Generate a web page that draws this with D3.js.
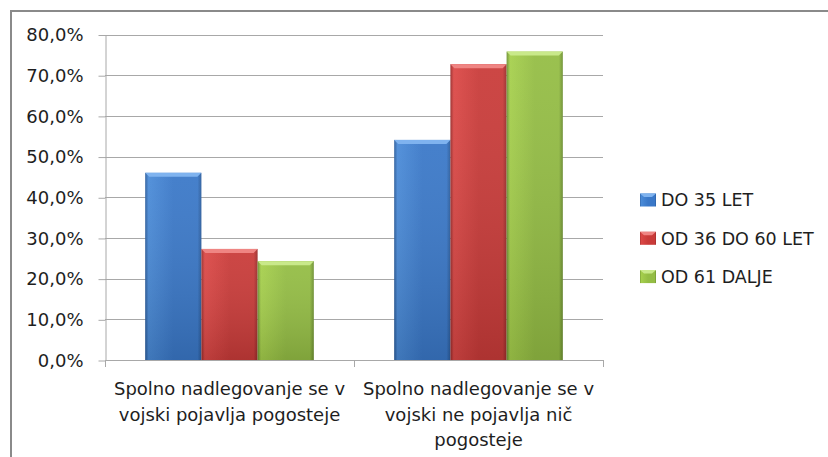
<!DOCTYPE html>
<html>
<head>
<meta charset="utf-8">
<script src="https://cdn.jsdelivr.net/npm/d3@7"></script>
<style>
  body { margin: 0; background: #fff; }
  text { font-family: "DejaVu Sans", sans-serif; fill: #1e1e1e; }
</style>
</head>
<body>
<div id="chart_area"></div>
<script>
// chart data
var categories = [
  ["Spolno nadlegovanje se v", "vojski pojavlja pogosteje"],
  ["Spolno nadlegovanje se v", "vojski ne pojavlja nič", "pogosteje"]
];
var series = ["DO 35 LET", "OD 36 DO 60 LET", "OD 61 DALJE"];
var values = [
  [0.460, 0.273, 0.243],  // DO 35 LET, OD 36 DO 60 LET, OD 61 DALJE (first group)
  [0.541, 0.727, 0.758]   // second group
];
var yTicks = [0, 0.1, 0.2, 0.3, 0.4, 0.5, 0.6, 0.7, 0.8];

var colors = [
  { light: "#4a8bd8", base: "#3a78c8", dark: "#2a5c9c", top: "#7fb3ef" },
  { light: "#dc4846", base: "#c93b39", dark: "#9a2b2a", top: "#ef8583" },
  { light: "#a6d04c", base: "#94bd44", dark: "#6c8f30", top: "#c9e98a" }
];

var canvas_width = 828, canvas_height = 457;
var margin = { top: 34.5, right: 225, bottom: 97, left: 105 };

var svg = d3.select("#chart_area")
  .append("svg")
  .attr("width", canvas_width)
  .attr("height", canvas_height);

// outer chart border (runs off the picture on the right and bottom)
svg.append("rect")
  .attr("x", 11).attr("y", 11)
  .attr("width", 900).attr("height", 600)
  .attr("fill", "none")
  .attr("stroke", "#8a8a8a")
  .attr("stroke-width", 2);

var x0 = d3.scaleBand()
  .domain(d3.range(categories.length))
  .range([margin.left, canvas_width - margin.right]);

var x1 = d3.scaleBand()
  .domain(d3.range(series.length))
  .range([0, x0.bandwidth()])
  .paddingOuter(0.715);

var y = d3.scaleLinear()
  .domain([0, 0.8])
  .range([canvas_height - margin.bottom, margin.top]);

var fmt = v => d3.format(".1f")(v * 100).replace(".", ",") + "%";

// gradients for the bevelled bars
var defs = svg.append("defs");
colors.forEach(function (c, i) {
  var g = defs.append("linearGradient")
    .attr("id", "grad" + i)
    .attr("x1", "0").attr("x2", "1").attr("y1", "0").attr("y2", "0");
  g.append("stop").attr("offset", "0").attr("stop-color", c.dark);
  g.append("stop").attr("offset", "0.06").attr("stop-color", c.light);
  g.append("stop").attr("offset", "0.5").attr("stop-color", c.base);
  g.append("stop").attr("offset", "0.93").attr("stop-color", c.base);
  g.append("stop").attr("offset", "1").attr("stop-color", c.dark);
  var v = defs.append("linearGradient")
    .attr("id", "shade" + i)
    .attr("x1", "0").attr("x2", "0").attr("y1", "0").attr("y2", "1");
  v.append("stop").attr("offset", "0").attr("stop-color", "#fff").attr("stop-opacity", 0.06);
  v.append("stop").attr("offset", "1").attr("stop-color", "#000").attr("stop-opacity", 0.14);
});

// gridlines
svg.append("g")
  .selectAll("line")
  .data(yTicks.slice(1))
  .join("line")
  .attr("x1", margin.left)
  .attr("x2", canvas_width - margin.right)
  .attr("y1", d => Math.round(y(d)) + 0.5)
  .attr("y2", d => Math.round(y(d)) + 0.5)
  .attr("stroke", "#a8a8a8");

// y axis
var yAxis = svg.append("g")
  .attr("transform", `translate(${margin.left + 0.5},0.5)`)
  .call(d3.axisLeft(y).tickValues(yTicks).tickFormat(fmt).tickSize(7).tickSizeOuter(0).tickPadding(15));
yAxis.select(".domain").attr("stroke", "#a8a8a8");
yAxis.selectAll(".tick line").attr("stroke", "#a8a8a8");
yAxis.selectAll(".tick text")
  .attr("font-size", 18)
  .attr("font-family", "DejaVu Sans")
  .attr("fill", "#1e1e1e");

// bars
var groups = svg.append("g")
  .selectAll("g")
  .data(values)
  .join("g")
  .attr("transform", (d, i) => `translate(${x0(i)},0)`);

var bar = groups.selectAll("g")
  .data(d => d.map((v, j) => ({ v: v, j: j })))
  .join("g");

bar.append("rect")
  .attr("x", d => x1(d.j))
  .attr("y", d => y(d.v))
  .attr("width", x1.bandwidth())
  .attr("height", d => y(0) - y(d.v))
  .attr("fill", d => `url(#grad${d.j})`);

bar.append("rect")
  .attr("x", d => x1(d.j))
  .attr("y", d => y(d.v))
  .attr("width", x1.bandwidth())
  .attr("height", d => y(0) - y(d.v))
  .attr("fill", d => `url(#shade${d.j})`);

// top bevel
bar.append("path")
  .attr("d", function (d) {
    var l = x1(d.j), r = l + x1.bandwidth(), t = y(d.v), b = 4;
    return `M${l},${t}L${r},${t}L${r - b},${t + b}L${l + b},${t + b}Z`;
  })
  .attr("fill", d => colors[d.j].top);

// x axis
svg.append("line")
  .attr("x1", margin.left).attr("x2", canvas_width - margin.right)
  .attr("y1", y(0) + 0.5).attr("y2", y(0) + 0.5)
  .attr("stroke", "#a8a8a8");

svg.append("g")
  .selectAll("line")
  .data(d3.range(categories.length + 1))
  .join("line")
  .attr("x1", i => Math.round(i < categories.length ? x0(i) : x0.range()[1]) + 0.5)
  .attr("x2", i => Math.round(i < categories.length ? x0(i) : x0.range()[1]) + 0.5)
  .attr("y1", y(0))
  .attr("y2", y(0) + 7)
  .attr("stroke", "#a8a8a8");

svg.append("g")
  .selectAll("text")
  .data(categories)
  .join("text")
  .attr("text-anchor", "middle")
  .attr("font-size", 18)
  .attr("transform", (d, i) => `translate(${x0(i) + x0.bandwidth() / 2},395)`)
  .selectAll("tspan")
  .data(d => d)
  .join("tspan")
  .attr("x", 0)
  .attr("y", (d, i) => i * 25.5)
  .text(d => d);

// legend
var legend = svg.append("g")
  .selectAll("g")
  .data(series)
  .join("g")
  .attr("transform", (d, i) => `translate(640,${200 + i * 38.3})`);

legend.append("rect")
  .attr("x", 0).attr("y", -6.5)
  .attr("width", 16).attr("height", 13)
  .attr("fill", (d, i) => `url(#grad${i})`);

legend.append("path")
  .attr("d", "M0,-6.5L16,-6.5L12,-3L4,-3Z")
  .attr("fill", (d, i) => colors[i].top);

legend.append("text")
  .attr("x", 21)
  .attr("dy", "0.36em")
  .attr("font-size", 17.5)
  .text(d => d);
</script>
</body>
</html>
